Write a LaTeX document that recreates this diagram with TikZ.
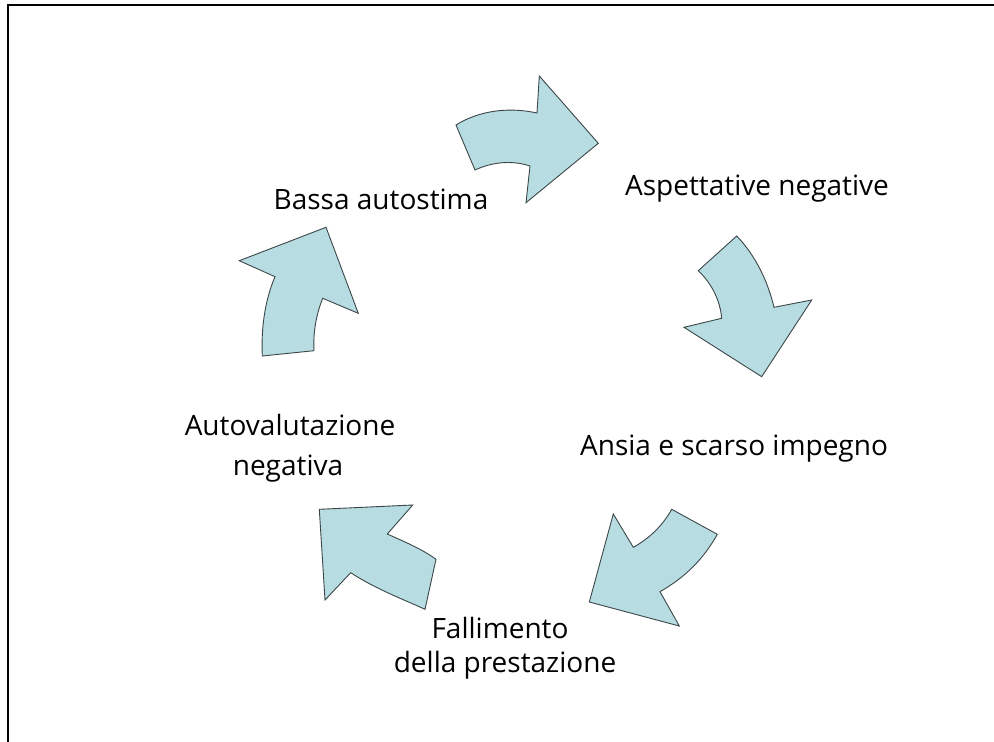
\documentclass[tikz,border=0pt]{standalone}
\usepackage{fontspec}
\setmainfont{Open Sans}
\definecolor{arrowfill}{RGB}{183,221,226}
\definecolor{arrowline}{RGB}{60,70,72}
\tikzset{
  bigarrow/.style={fill=arrowfill, draw=arrowline, line width=0.9pt, line join=miter},
  lbl/.style={font=\fontsize{28}{34}\selectfont, inner sep=0pt},
  frame/.style={line width=2.4pt, line cap=rect}
}
\begin{document}
\begin{tikzpicture}[x=1pt,y=-1pt]
\useasboundingbox (0,0) rectangle (994,742);
\fill[white] (0,0) rectangle (994,742);
% frame (top and left only)
\coordinate (fbl) at (8,742);
\coordinate (ftl) at (8,5);
\coordinate (ftr) at (993,5);
\draw[frame] (fbl) -- (ftl) -- (ftr);

% arrow 1 (top)
\draw[bigarrow] (456,125) .. controls (480,110) and (510,107) .. (537,113)
  -- (539.3,76) -- (598.3,143.3) -- (526,202.7) -- (530,166)
  .. controls (512,160) and (492,162) .. (475,170) -- cycle;
% arrow 2 (right)
\draw[bigarrow] (736.7,236) -- (698.3,270.7)
  .. controls (712,284) and (720,300) .. (721.7,318.3)
  -- (684,327.3) -- (761.7,376.7) -- (811.7,300) -- (774,307.3)
  .. controls (768,282) and (756,256) .. (736.7,236) -- cycle;
% arrow 3 (bottom right)
\draw[bigarrow] (671.7,509.3) -- (717.3,534.3)
  .. controls (703,560) and (684,578) .. (660,591.7)
  -- (679.3,626) -- (589.3,602) -- (613.3,514) -- (633.3,547.3)
  .. controls (650,538) and (663,525) .. (671.7,509.3) -- cycle;
% arrow 4 (bottom left)
\draw[bigarrow] (319.3,509.3) -- (412.7,505) -- (387.3,534)
  .. controls (405,542) and (422,549) .. (436,559.3)
  -- (425,609.3)
  .. controls (400,598) and (374,588) .. (350.7,572.7)
  -- (325,600) -- cycle;
% arrow 5 (left)
\draw[bigarrow] (239.3,260.7) -- (326,227.3) -- (358.3,313.3) -- (322.7,298.3)
  .. controls (316,315) and (313,333) .. (314,350.7)
  -- (262.3,356)
  .. controls (261,328) and (265,300) .. (275,276.7) -- cycle;

% labels
\node[lbl, anchor=base] (bassa) at (381,209) {Bassa autostima};
\node[lbl, anchor=base] (aspett) at (757,195) {Aspettative negative};
\node[lbl, anchor=base] (ansia) at (734,455) {Ansia e scarso impegno};
\node[lbl, anchor=base] (fall1) at (500,638) {Fallimento};
\node[lbl, anchor=base] (fall2) at (505,672) {della prestazione};
\node[lbl, anchor=base] (autov1) at (290,435) {Autovalutazione};
\node[lbl, anchor=base] (autov2) at (288,475) {negativa};
\end{tikzpicture}
\end{document}
